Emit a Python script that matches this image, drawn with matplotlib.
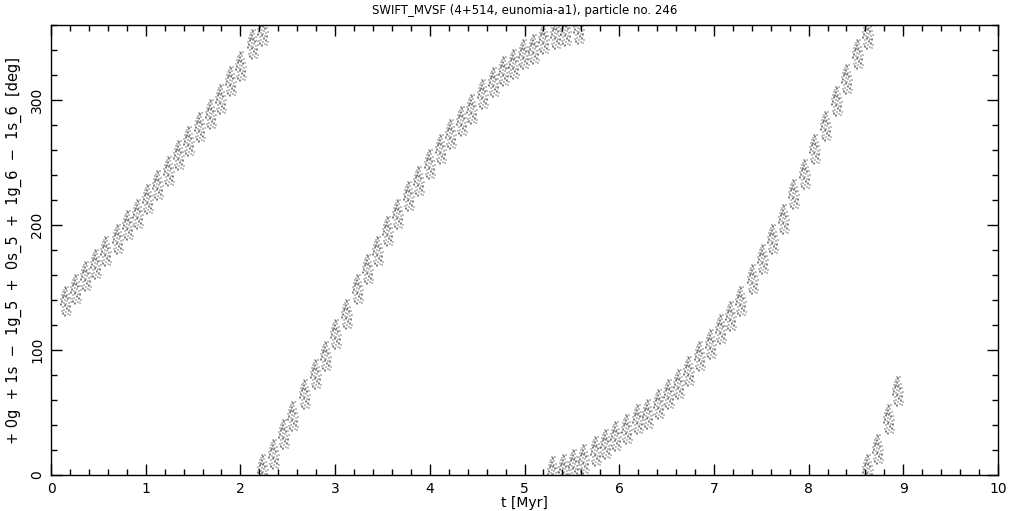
import matplotlib
matplotlib.use('Agg')
import matplotlib.pyplot as plt
from matplotlib.path import Path
from matplotlib.markers import MarkerStyle
from matplotlib.ticker import MultipleLocator

# cluster centres: time [Myr] and angle [deg]
seg1_t = [0.15, 0.25, 0.36, 0.46, 0.57, 0.70, 0.80, 0.91, 1.01, 1.12, 1.24, 1.34,
          1.45, 1.56, 1.68, 1.78, 1.89, 2.00, 2.12, 2.23]
seg1_a = [140, 150, 160, 170, 180, 190, 201, 210, 222, 233, 244, 257,
          268, 279, 290, 302, 316, 328, 346, 356]

seg2_t = [2.23, 2.34, 2.45, 2.55, 2.67, 2.79, 2.89, 3.00, 3.12, 3.23, 3.34, 3.44,
          3.55, 3.65, 3.77, 3.88, 3.99, 4.11, 4.21, 4.33, 4.43, 4.55, 4.67, 4.77,
          4.88, 4.98, 5.09, 5.20, 5.32, 5.43, 5.56]
seg2_a = [6, 18, 34, 48, 66, 82, 96, 114, 130, 150, 166, 180,
          196, 210, 224, 236, 250, 262, 274, 284, 294, 306, 315, 324,
          330, 338, 342, 350, 354, 356, 358]

seg3_t = [5.29, 5.41, 5.51, 5.62, 5.74, 5.85, 5.96, 6.07, 6.19, 6.29, 6.41, 6.52,
          6.62, 6.73, 6.84, 6.96, 7.06, 7.17, 7.28, 7.40, 7.51, 7.61, 7.73, 7.84,
          7.95, 8.06, 8.17, 8.29, 8.39, 8.51, 8.62]
seg3_a = [4, 6, 10, 14, 20, 26, 32, 38, 46, 50, 58, 66,
          74, 84, 96, 106, 118, 128, 140, 158, 174, 190, 206, 226,
          242, 262, 280, 300, 318, 338, 354]

seg4_t = [8.62, 8.72, 8.84, 8.93]
seg4_a = [6, 22, 46, 68]

title = 'SWIFT_MVSF (4+514, eunomia-a1), particle no. 246'
xlabel = 't [Myr]'
ylabel = '+ 0g  + 1s  \u2212  1g_5  +  0s_5  +  1g_6  \u2212  1s_6  [deg]'


def cluster_marker():
    # speckle of short pixel dashes (x, y, height) used as one marker glyph
    dashes = [(-5, -4, 2), (-5, 2, 1),
              (-4, -10, 1), (-4, -1, 2), (-4, 6, 1),
              (-3, -13, 2), (-3, -6, 1), (-3, 3, 2), (-3, 9, 1),
              (-2, -9, 1), (-2, -2, 1), (-2, 5, 2), (-2, 11, 1),
              (-1, -15, 2), (-1, -5, 2), (-1, 1, 1), (-1, 8, 2), (-1, 14, 1),
              (0, -11, 1), (0, -3, 1), (0, 4, 2), (0, 12, 2),
              (1, -8, 2), (1, 0, 1), (1, 6, 1), (1, 10, 1),
              (2, -13, 1), (2, -5, 1), (2, 2, 2), (2, 14, 1),
              (3, -10, 2), (3, -2, 1), (3, 7, 1),
              (4, -14, 1), (4, -6, 2), (4, 3, 1),
              (5, -11, 1), (5, -1, 1)]
    paths = []
    for x, y, h in dashes:
        y0 = y - 0.5
        verts = [(x - 0.5, y0), (x + 0.5, y0), (x + 0.5, y0 + h),
                 (x - 0.5, y0 + h), (x - 0.5, y0)]
        paths.append(Path(verts, closed=True))
    return MarkerStyle(Path.make_compound_path(*paths))


fig = plt.figure(figsize=(10.21, 5.11), dpi=100)
ax = fig.add_axes([51 / 1021, 36 / 511, 947 / 1021, 450 / 511])

marker = cluster_marker()
msize = 2 * 15.5 * 0.72
for t, a in [(seg1_t, seg1_a), (seg2_t, seg2_a), (seg3_t, seg3_a), (seg4_t, seg4_a)]:
    ax.plot(t, a, ls='none', marker=marker, ms=msize, mfc='black', mec='none',
            antialiased=False, snap=True)

ax.set_xlim(0, 10)
ax.set_ylim(0, 360)
ax.xaxis.set_major_locator(MultipleLocator(1))
ax.xaxis.set_minor_locator(MultipleLocator(0.2))
ax.yaxis.set_major_locator(MultipleLocator(100))
ax.yaxis.set_minor_locator(MultipleLocator(20))
ax.tick_params(which='both', direction='in', top=True, right=True, width=1, colors='black')
ax.tick_params(which='major', length=8, labelsize=10, pad=5)
ax.tick_params(which='minor', length=4)
for lab in ax.get_yticklabels():
    lab.set_rotation(90)
    lab.set_va('center')
for sp in ax.spines.values():
    sp.set_linewidth(1)

ax.set_title(title, fontsize=8.5, pad=8)
ax.set_xlabel(xlabel, fontsize=10, labelpad=0)
ax.set_ylabel(ylabel, fontsize=10.5, labelpad=6)

fig.savefig('out.png', dpi=100)
